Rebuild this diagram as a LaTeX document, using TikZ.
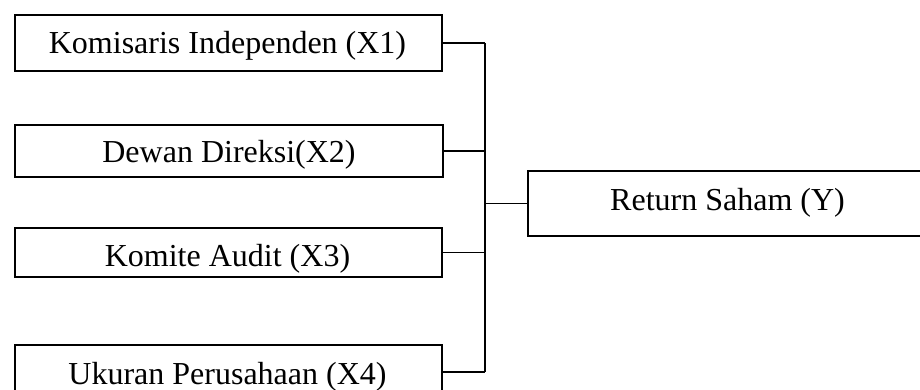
\documentclass[tikz,border=0pt]{standalone}
\usepackage{fontspec}
\setmainfont{Liberation Serif}
\begin{document}
\begin{tikzpicture}[x=1pt,y=-1pt,
  box/.style={draw=black, line width=1.6pt, rectangle, inner sep=0pt, anchor=north west},
  lbl/.style={anchor=base, inner sep=0pt, font=\fontsize{32}{38}\selectfont},
  conn/.style={draw=black, line width=1.6pt}]
\useasboundingbox (0,0) rectangle (920,390);
\clip (0,0) rectangle (920,390);
\fill[white] (0,0) rectangle (920,390);
% boxes
\node[box, minimum width=427pt, minimum height=56pt] (x1) at (14,14) {};
\node[box, minimum width=428pt, minimum height=52pt] (x2) at (14,124) {};
\node[box, minimum width=427pt, minimum height=49pt] (x3) at (14,227) {};
\node[box, minimum width=427pt, minimum height=54pt] (x4) at (14,344) {};
\node[box, minimum width=401pt, minimum height=65pt] (y)  at (527,170) {};
% texts
\node[lbl] (t1) at (227.5,54) {Komisaris Independen (X1)};
\node[lbl] (t2) at (229,163) {Dewan Direksi(X2)};
\node[lbl] (t3) at (227.5,266) {Komite Audit (X3)};
\node[lbl] (t4) at (227.5,384) {Ukuran Perusahaan (X4)};
\node[lbl] (ty) at (727.5,210) {Return Saham (Y)};
% connectors
\coordinate (bus) at (485,0);
\draw[conn] (x1.east) -- (x1.east -| bus);
\draw[conn] (x2.east) -- (x2.east -| bus);
\draw[conn] (x3.east) -- (x3.east -| bus);
\draw[conn] (x4.east) -- (x4.east -| bus);
\draw[conn] (x1.east -| bus) -- (x4.east -| bus);
\draw[conn] (y.west -| bus) -- (y.west);
\end{tikzpicture}
\end{document}
